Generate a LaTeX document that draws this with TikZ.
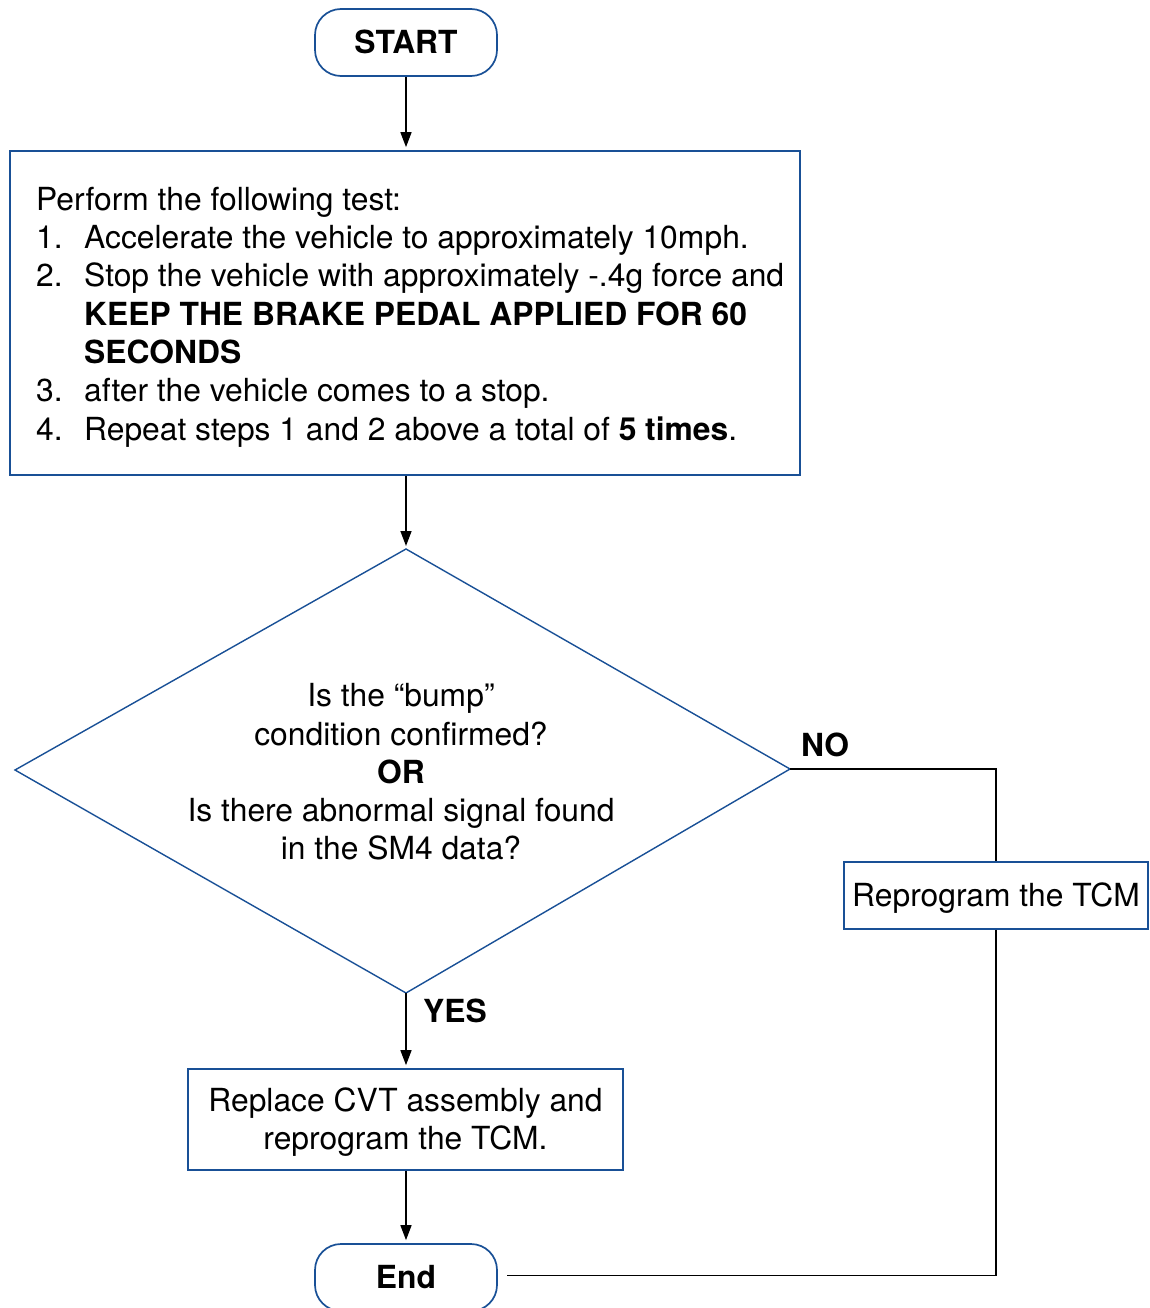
\documentclass[tikz,border=0pt]{standalone}
\usepackage{fontspec}
\setmainfont{TeX Gyre Heros}
\usetikzlibrary{arrows.meta}
\definecolor{fcblue}{RGB}{25,80,150}
\begin{document}
\begin{tikzpicture}[x=1pt,y=-1pt,
  fnt/.style={font=\fontsize{31.8}{38.3}\selectfont},
  box/.style={draw=fcblue,line width=1.7pt,inner sep=0pt,fnt},
  term/.style={box,rounded corners=26pt,minimum width=182pt,minimum height=67pt,font=\fontsize{31.8}{38.3}\selectfont\bfseries},
  txt/.style={fnt,inner sep=0pt},
  arr/.style={draw=black,line width=1.5pt,-{Triangle[length=15pt,width=11pt]},shorten >=3pt},
  conn/.style={draw=black,line width=1.5pt},
  lab/.style={font=\fontsize{31.8}{38.3}\selectfont\bfseries,inner sep=0pt}]
\useasboundingbox (0,0) rectangle (1149,1308);
% nodes
\node[term,text height=25pt,text depth=3pt] (start) at (406,42.5) {START};
\node[box,minimum width=790pt,minimum height=324pt] (test) at (405,313) {};
\node[txt,align=left,anchor=west] (testtxt) at (36,317) {%
Perform the following test:\\
\makebox[48pt][l]{1.}Accelerate the vehicle to approximately 10mph.\\
\makebox[48pt][l]{2.}Stop the vehicle with approximately -.4g force and\\
\hspace*{48pt}\textbf{KEEP THE BRAKE PEDAL APPLIED FOR 60}\\
\hspace*{48pt}\textbf{SECONDS}\\
\makebox[48pt][l]{3.}after the vehicle comes to a stop.\\
\makebox[48pt][l]{4.}Repeat steps 1 and 2 above a total of \textbf{5 times}.};
\coordinate (dtop) at (406,549);
\coordinate (dright) at (790,769);
\coordinate (dbot) at (406,993);
\coordinate (dleft) at (15,770);
\draw[fcblue,line width=1.4pt,line join=miter] (dtop) -- (dright) -- (dbot) -- (dleft) -- cycle;
\node[txt,align=center] (q) at (401,772) {Is the “bump”\\condition confirmed?\\\textbf{OR}\\Is there abnormal signal found\\in the SM4 data?};
\node[box,minimum width=304pt,minimum height=67pt,text height=29pt,text depth=6.5pt] (rep) at (996,895.5) {Reprogram the TCM};
\node[box,minimum width=435pt,minimum height=101pt,align=center] (repl) at (405.5,1119.5) {\rule{0pt}{29pt}Replace CVT assembly and\\reprogram the TCM.};
\node[term,text height=25pt,text depth=3pt] (end) at (406,1277.5) {End};
\coordinate (endr) at ([xshift=9pt,yshift=2pt]end.east);
\node[lab] (no) at (825,745) {NO};
\node[lab] (yes) at (455,1011) {YES};
% connectors
\draw[arr] (start.south) -- (start.south |- test.north);
\draw[arr] (test.south -| dtop) -- (dtop);
\draw[conn] (dright) -- (dright -| rep.north) -- (rep.north);
\draw[arr] (dbot) -- (dbot |- repl.north);
\draw[arr] (repl.south -| end.north) -- (end.north);
\draw[conn] (rep.south) |- (endr);
\end{tikzpicture}
\end{document}
